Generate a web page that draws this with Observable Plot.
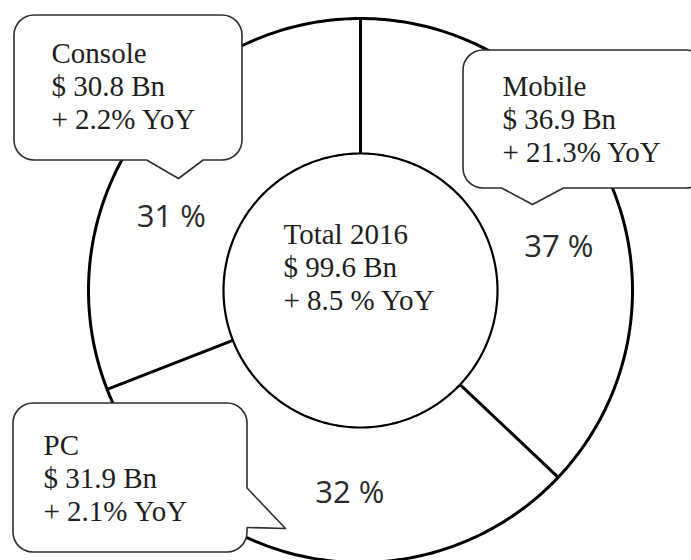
<!DOCTYPE html>
<html>
<head>
<meta charset="utf-8">
<script src="https://cdn.jsdelivr.net/npm/d3@7"></script>
<script src="https://cdn.jsdelivr.net/npm/@observablehq/plot@0.6"></script>
<style>
  html, body { margin: 0; padding: 0; background: #fff; }
  #chart { width: 691px; height: 560px; overflow: hidden; }
</style>
</head>
<body>
<div id="chart"></div>
<script>
// ---- data ----
const segments = ["Mobile", "PC", "Console"];          // clockwise from 12 o'clock
const revenueBn = [36.9, 31.9, 30.8];                  // $ Bn, 2016
const growthYoY = ["+ 21.3% YoY", "+ 2.1% YoY", "+ 2.2% YoY"];
const totalYear = 2016;
const totalRevenueBn = 99.6;
const totalGrowth = "+ 8.5 % YoY";

// ---- layout (pixel units, styling only) ----
const W = 691, H = 560;
const C = {x: 360, y: 290};
const R_OUT = 272, R_IN = 137, R_LABEL = 203;
const labelAngleShift = [11, -8, -13];          // degrees, manual nudge of % labels
const boxes = [
  {x1: 463, x2: 706, y1: 50,  y2: 188, tx: 502, ty: 93,  tail: [[502,188],[532,204],[562,188]]},
  {x1: 13,  x2: 247, y1: 403, y2: 552, tx: 43,  ty: 452, tail: [[247,488],[285,528],[247,527]]},
  {x1: 14,  x2: 242, y1: 15,  y2: 160, tx: 51,  ty: 60,  tail: [[147,160],[178,178],[202,160]]}
];
const SERIF = "'Liberation Serif', 'Times New Roman', serif";
const SANS = "'Open Sans', 'Liberation Sans', sans-serif";
const FS = 29, LH = 1.13;

// ---- derived geometry ----
const total = d3.sum(revenueBn);
const pol = (deg, r) => [C.x + r * Math.sin(deg * Math.PI / 180), C.y - r * Math.cos(deg * Math.PI / 180)];
let acc = 0;
const slices = segments.map((name, i) => {
  const a0 = acc / total * 360;
  acc += revenueBn[i];
  const a1 = acc / total * 360;
  const share = Math.round(revenueBn[i] / total * 100);
  const [lx, ly] = pol((a0 + a1) / 2 + labelAngleShift[i], R_LABEL);
  return {name, a0, a1, share, lx, ly,
          text: `${name}\n$ ${revenueBn[i].toFixed(1)} Bn\n${growthYoY[i]}`, box: boxes[i]};
});
const circle = r => d3.range(0, 360, 1).map(a => { const [x, y] = pol(a, r); return {x, y}; });
const dividers = slices.map(s => {
  const [x1, y1] = pol(s.a0, R_IN), [x2, y2] = pol(s.a0, R_OUT);
  return {x1, y1, x2, y2};
});
const tails = slices.map(s => s.box.tail.map(([x, y]) => ({x, y, name: s.name})));
// covering polygon for each tail (pulls base slightly inside the box)
const tailCovers = slices.map(s => {
  const t = s.box.tail;
  const horiz = t[0][1] === t[2][1];
  const inward = horiz ? [[t[2][0], t[2][1] - 2], [t[0][0], t[0][1] - 2]]
                       : [[t[2][0] - 2, t[2][1]], [t[0][0] - 2, t[0][1]]];
  return [...t, ...inward].map(([x, y]) => ({x, y}));
});

const marks = [
  Plot.line(circle(R_OUT), {x: "x", y: "y", curve: "linear-closed", fill: "white", stroke: "#000", strokeWidth: 3}),
  Plot.line(circle(R_IN), {x: "x", y: "y", curve: "linear-closed", fill: "white", stroke: "#000", strokeWidth: 2.2}),
  Plot.link(dividers, {x1: "x1", y1: "y1", x2: "x2", y2: "y2", stroke: "#000", strokeWidth: 3}),
  Plot.text(slices, {x: "lx", y: "ly", text: d => `${d.share} %`, fontFamily: SANS, fontSize: 31, fill: "#2b2b2b", textAnchor: "middle"}),
  Plot.text([`Total ${totalYear}\n$ ${totalRevenueBn} Bn\n${totalGrowth}`], {
    x: () => 283, y: () => 241 - 0.71 * FS, text: d => d, textAnchor: "start", lineAnchor: "top",
    lineHeight: LH, fontFamily: SERIF, fontSize: FS, fill: "#1e1e1e"}),
  Plot.rect(slices, {x1: d => d.box.x1, x2: d => d.box.x2, y1: d => d.box.y1, y2: d => d.box.y2,
    rx: 20, fill: "white", stroke: "#2e2e2e", strokeWidth: 1.6}),
  ...tailCovers.map(t => Plot.line(t, {x: "x", y: "y", curve: "linear-closed", fill: "white", stroke: "none"})),
  ...tails.map(t => Plot.line(t, {x: "x", y: "y", stroke: "#2e2e2e", strokeWidth: 1.6})),
  Plot.text(slices, {x: d => d.box.tx, y: d => d.box.ty - 0.71 * FS, text: "text", textAnchor: "start", lineAnchor: "top",
    lineHeight: LH, fontFamily: SERIF, fontSize: FS, fill: "#1e1e1e"})
];

const chart = Plot.plot({
  width: W, height: H,
  margin: 0,
  x: {domain: [0, W], range: [0, W], axis: null},
  y: {domain: [0, H], range: [0, H], axis: null},
  style: {background: "white", overflow: "hidden"},
  marks
});
document.getElementById("chart").append(chart);
</script>
</body>
</html>
